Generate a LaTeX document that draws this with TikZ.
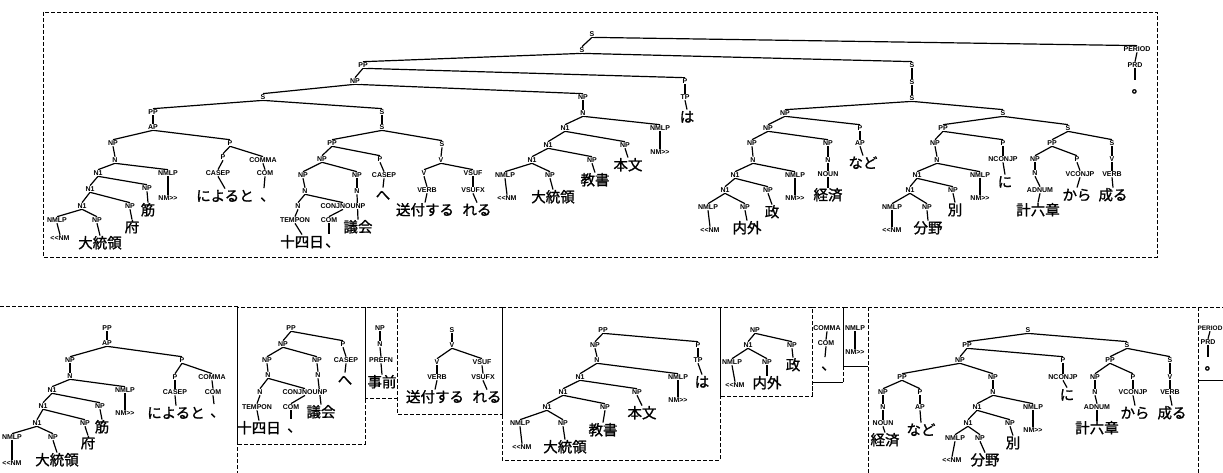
\documentclass[tikz,border=0pt]{standalone}
\usepackage{fontspec}
\setsansfont{Liberation Sans}
\newfontfamily\jpfont{Noto Sans CJK JP}[FakeBold=1.2]
\usetikzlibrary{backgrounds}
\newcommand\LLt{<\kern0pt<}
\newcommand\GGt{>\kern0pt>}
\newcommand\tten{\makebox[7.5pt][l]{、}}
\newcommand\tmaru{\makebox[7pt][l]{。}}
\begin{document}
\begin{tikzpicture}[x=1pt,y=-1pt,
  L/.style={font=\sffamily\bfseries\fontsize{7}{7}\selectfont, inner sep=0.7pt, fill=white},
  W/.style={font=\jpfont\fontsize{14.5}{14.5}\selectfont, inner sep=0.5pt, text height=12pt, text depth=1.5pt},
  edge/.style={line width=1.2pt},
  box/.style={line width=0.8pt, dash pattern=on 4pt off 2pt},
  solidbox/.style={line width=1pt}]
\useasboundingbox (0,0) rectangle (1223,473);
% ---------------- top tree ----------------
\node[L] (t0) at (592,34) {S};
\node[L] (t1) at (582,50) {S};
\node[L] (tper) at (1137,49) {PERIOD};
\node[L] (tprd) at (1135,65) {PRD};
\node[W] (tdot) at (1135,87.5) {\tmaru};
\node[L] (tpp1) at (363,65) {PP};
\node[L] (tnp1) at (355,81) {NP};
\node[L] (tp1) at (685,81) {P};
\node[L] (ttp) at (685,97) {TP};
\node[W] (tha) at (687,117) {は};
\node[L] (ts2) at (263,97) {S};
\node[L] (tap0) at (153,112) {PP};
\node[L] (tap) at (153,127) {AP};
\node[L] (tnpa) at (113,143) {NP};
\node[L] (tpa) at (230,143) {P};
\node[L] (tna) at (115,160) {N};
\node[L] (tn1a) at (98,173) {N1};
\node[L] (tmla) at (168,173) {NMLP};
\node[L] (tnma) at (168,198) {NM\GGt};
\node[L] (tn1b) at (90,189) {N1};
\node[L] (tnpb) at (147,188) {NP};
\node[W] (tsuji) at (148,210) {筋};
\node[L] (tn1c) at (82,206) {N1};
\node[L] (tnpc) at (130,206) {NP};
\node[W] (tfu) at (132,227) {府};
\node[L] (tmlc) at (57,220) {NMLP};
\node[L] (tnpd) at (97,220) {NP};
\node[L] (tnmc) at (60,238) {\LLt NM};
\node[W] (tdtr) at (100,243) {大統領};
\node[L] (tpb) at (223,157) {P};
\node[L] (tcma) at (263,160) {COMMA};
\node[L] (tcsa) at (218,173) {CASEP};
\node[W] (tniyo) at (225,196) {によると};
\node[L] (tcoa) at (265,173) {COM};
\node[W] (ttena) at (264,195.5) {\tten};
\node[L] (ts3) at (382,112) {S};
\node[L] (ts4) at (382,127) {S};
\node[L] (tpp2) at (332,143) {PP};
\node[L] (ts5) at (442,144) {S};
\node[L] (tnp2) at (322,159) {NP};
\node[L] (tp2) at (380,159) {P};
\node[L] (tnp3) at (303,175) {NP};
\node[L] (tnp4) at (357,175) {NP};
\node[L] (tcs2) at (384,175) {CASEP};
\node[W] (the) at (383,195) {へ};
\node[L] (tn3) at (305,191) {N};
\node[L] (tn3b) at (298,206) {N};
\node[L] (tcj) at (343,206) {CONJNOUNP};
\node[L] (ttemp) at (295,220) {TEMPON};
\node[W] (tjuyo) at (302,242) {十四日};
\node[L] (tcom2) at (329,220) {COM};
\node[W] (tten2) at (329,241.5) {\tten};
\node[L] (tn4) at (357,191) {N};
\node[W] (tgikai) at (358,227) {議会};
\node[L] (tv1) at (441,160) {V};
\node[L] (tv2) at (424,173) {V};
\node[L] (tvsuf) at (473,173) {VSUF};
\node[L] (tverb1) at (427,190) {VERB};
\node[W] (tsofu) at (425,210) {送付する};
\node[L] (tvsx) at (473,190) {VSUFX};
\node[W] (treru) at (477,210) {れる};
\node[L] (tnp5) at (583,97) {NP};
\node[L] (tn5) at (583,113) {N};
\node[L] (tn1e) at (565,128) {N1};
\node[L] (tmle) at (660,128) {NMLP};
\node[L] (tnme) at (660,152) {NM\GGt};
\node[L] (tn1f) at (548,145) {N1};
\node[L] (tnpf) at (625,145) {NP};
\node[W] (thon) at (628,165) {本文};
\node[L] (tn1g) at (532,160) {N1};
\node[L] (tnpg) at (592,160) {NP};
\node[W] (tkyo) at (595,180) {教書};
\node[L] (tmlh) at (505,175) {NMLP};
\node[L] (tnph) at (550,175) {NP};
\node[L] (tnmh) at (507,198) {\LLt NM};
\node[W] (tdtr2) at (553,197) {大統領};
\node[L] (ts6) at (912,65) {S};
\node[L] (ts7) at (912,82) {S};
\node[L] (ts8) at (912,98) {S};
\node[L] (tnp6) at (785,113) {NP};
\node[L] (ts9) at (1003,113) {S};
\node[L] (tnp7) at (768,128) {NP};
\node[L] (tp7) at (860,128) {P};
\node[L] (tap7) at (860,143) {AP};
\node[W] (tnado) at (863,163) {など};
\node[L] (tnp8) at (752,143) {NP};
\node[L] (tnp9) at (828,143) {NP};
\node[L] (tn9) at (828,160) {N};
\node[L] (tnoun9) at (828,174) {NOUN};
\node[W] (tkei) at (828,195) {経済};
\node[L] (tn8) at (753,160) {N};
\node[L] (tn1i) at (735,175) {N1};
\node[L] (tmli) at (795,175) {NMLP};
\node[L] (tnmi) at (795,198) {NM\GGt};
\node[L] (tn1j) at (725,190) {N1};
\node[L] (tnpj) at (768,190) {NP};
\node[W] (tsei) at (772,212) {政};
\node[L] (tmlk) at (708,207) {NMLP};
\node[L] (tnpk) at (745,207) {NP};
\node[L] (tnmk) at (710,230) {\LLt NM};
\node[W] (tnai) at (747,228) {内外};
\node[L] (tpp10) at (943,128) {PP};
\node[L] (ts10) at (1068,128) {S};
\node[L] (tnp10) at (935,143) {NP};
\node[L] (tp10) at (1003,143) {P};
\node[L] (tncj) at (1003,159) {NCONJP};
\node[W] (tni) at (1005,182) {に};
\node[L] (tn10) at (937,160) {N};
\node[L] (tn1l) at (917,175) {N1};
\node[L] (tmll) at (980,175) {NMLP};
\node[L] (tnml) at (980,198) {NM\GGt};
\node[L] (tn1m) at (910,190) {N1};
\node[L] (tnpm) at (953,190) {NP};
\node[W] (tbetsu) at (955,210) {別};
\node[L] (tmln) at (892,207) {NMLP};
\node[L] (tnpn) at (927,207) {NP};
\node[L] (tnmn) at (892,230) {\LLt NM};
\node[W] (tbun) at (928,228) {分野};
\node[L] (tpp11) at (1052,143) {PP};
\node[L] (ts11) at (1112,143) {S};
\node[L] (tnp11) at (1035,159) {NP};
\node[L] (tp11) at (1077,159) {P};
\node[L] (tn11) at (1035,173) {N};
\node[L] (tadn) at (1040,190) {ADNUM};
\node[W] (tkeiroku) at (1038,210) {計六章};
\node[L] (tvcj) at (1080,174) {VCONJP};
\node[W] (tkara) at (1077,195) {から};
\node[L] (tv11) at (1112,159) {V};
\node[L] (tverb11) at (1112,174) {VERB};
\node[W] (tnaru) at (1113,195) {成る};
% ---------------- bottom: box 1 ----------------
\node[L] (apa) at (107,328) {PP};
\node[L] (aap) at (107,343) {AP};
\node[L] (anp) at (70,360) {NP};
\node[L] (ap) at (182,360) {P};
\node[L] (an) at (70,376) {N};
\node[L] (an1) at (52,390) {N1};
\node[L] (aml) at (125,390) {NMLP};
\node[L] (anm) at (125,413) {NM\GGt};
\node[L] (an1b) at (43,406) {N1};
\node[L] (anpb) at (100,406) {NP};
\node[W] (asuji) at (102,427) {筋};
\node[L] (an1c) at (37,423) {N1};
\node[L] (anpc) at (85,423) {NP};
\node[W] (afu) at (88,443) {府};
\node[L] (amld) at (12,437) {NMLP};
\node[L] (anpd) at (53,437) {NP};
\node[L] (anmd) at (12,463) {\LLt NM};
\node[W] (adtr) at (57,460) {大統領};
\node[L] (apb) at (175,377) {P};
\node[L] (acma) at (212,377) {COMMA};
\node[L] (acs) at (175,392) {CASEP};
\node[W] (aniyo) at (176,413) {によると};
\node[L] (aco) at (213,392) {COM};
\node[W] (aten) at (214,411.5) {\tten};
% ---------------- box 2 ----------------
\node[L] (cpp) at (291,328) {PP};
\node[L] (cnp) at (283,344) {NP};
\node[L] (cp) at (343,344) {P};
\node[L] (cnp1) at (267,360) {NP};
\node[L] (cnp2) at (317,360) {NP};
\node[L] (ccs) at (346,360) {CASEP};
\node[W] (che) at (345,380) {へ};
\node[L] (cn) at (268,375) {N};
\node[L] (cn2) at (318,375) {N};
\node[L] (cnb) at (260,392) {N};
\node[L] (ccj) at (305,392) {CONJNOUNP};
\node[L] (ctemp) at (257,407) {TEMPON};
\node[L] (ccom) at (291,407) {COM};
\node[W] (cjuyo) at (259,428) {十四日};
\node[W] (cten) at (291,426.5) {\tten};
\node[W] (cgikai) at (321,412) {議会};
% ---------------- box 3 ----------------
\node[L] (dnp) at (380,328) {NP};
\node[L] (dn) at (380,344) {N};
\node[L] (dpre) at (381,360) {PREFN};
\node[W] (djizen) at (382,382) {事前};
% ---------------- box 4 ----------------
\node[L] (es) at (452,330) {S};
\node[L] (ev) at (452,345) {V};
\node[L] (ev2) at (437,362) {V};
\node[L] (evs) at (482,362) {VSUF};
\node[L] (everb) at (437,377) {VERB};
\node[L] (evsx) at (483,377) {VSUFX};
\node[W] (esofu) at (435,397) {送付する};
\node[W] (ereru) at (487,397) {れる};
% ---------------- box 5 ----------------
\node[L] (fpp) at (603,330) {PP};
\node[L] (fnp) at (595,345) {NP};
\node[L] (fp) at (698,345) {P};
\node[L] (ftp) at (698,360) {TP};
\node[W] (fha) at (702,382) {は};
\node[L] (fn) at (597,360) {N};
\node[L] (fn1) at (580,377) {N1};
\node[L] (fml) at (678,377) {NMLP};
\node[L] (fnm) at (678,400) {NM\GGt};
\node[L] (fn1b) at (563,392) {N1};
\node[L] (fnpb) at (637,392) {NP};
\node[W] (fhon) at (642,413) {本文};
\node[L] (fn1c) at (547,407) {N1};
\node[L] (fnpc) at (605,407) {NP};
\node[W] (fkyo) at (603,430) {教書};
\node[L] (fmld) at (520,423) {NMLP};
\node[L] (fnpd) at (563,423) {NP};
\node[L] (fnmd) at (522,447) {\LLt NM};
\node[W] (fdtr) at (565,447) {大統領};
% ---------------- box 6 ----------------
\node[L] (gnp) at (755,330) {NP};
\node[L] (gn1) at (748,345) {N1};
\node[L] (gnp2) at (792,345) {NP};
\node[W] (gsei) at (793,365) {政};
\node[L] (gml) at (732,362) {NMLP};
\node[L] (gnp3) at (767,362) {NP};
\node[L] (gnm) at (735,385) {\LLt NM};
\node[W] (gnai) at (767,383) {内外};
% ---------------- box 7, 8, 10 ----------------
\node[L] (hcm) at (827,328) {COMMA};
\node[L] (hco) at (826,343) {COM};
\node[W] (hten) at (825,364.5) {\tten};
\node[L] (iml) at (855,328) {NMLP};
\node[L] (inm) at (855,352) {NM\GGt};
\node[L, font=\sffamily\bfseries\fontsize{6.5}{6.5}\selectfont] (kper) at (1210,328) {PERIOD};
\node[L] (kprd) at (1208,342) {PRD};
\node[W] (kdot) at (1208,364.5) {\tmaru};
% ---------------- box 9 ----------------
\node[L] (js) at (1028,330) {S};
\node[L] (jpp) at (967,345) {PP};
\node[L] (js2) at (1127,345) {S};
\node[L] (jnp) at (960,360) {NP};
\node[L] (jp) at (1063,360) {P};
\node[L] (jncj) at (1063,377) {NCONJP};
\node[W] (jni) at (1067,395) {に};
\node[L] (jpp2) at (902,377) {PP};
\node[L] (jnp2) at (993,377) {NP};
\node[L] (jnp3) at (883,392) {NP};
\node[L] (jp3) at (920,392) {P};
\node[L] (jn3) at (883,407) {N};
\node[L] (jnoun) at (883,423) {NOUN};
\node[W] (jkei) at (885,440) {経済};
\node[L] (jap) at (920,407) {AP};
\node[W] (jnado) at (921,430) {など};
\node[L] (jn) at (993,392) {N};
\node[L] (jn1) at (977,407) {N1};
\node[L] (jml) at (1033,407) {NMLP};
\node[L] (jnm) at (1033,430) {NM\GGt};
\node[L] (jn1b) at (968,423) {N1};
\node[L] (jnpb) at (1010,423) {NP};
\node[W] (jbetsu) at (1013,443) {別};
\node[L] (jmlc) at (955,438) {NMLP};
\node[L] (jnpc) at (980,438) {NP};
\node[L] (jnmc) at (952,460) {\LLt NM};
\node[W] (jbun) at (985,460) {分野};
\node[L] (jpp3) at (1110,360) {PP};
\node[L] (js3) at (1170,360) {S};
\node[L] (jnp4) at (1095,377) {NP};
\node[L] (jp4) at (1133,377) {P};
\node[L] (jn4) at (1095,392) {N};
\node[L] (jadn) at (1097,407) {ADNUM};
\node[W] (jkeiroku) at (1097,428) {計六章};
\node[L] (jvcj) at (1133,392) {VCONJP};
\node[W] (jkara) at (1135,413) {から};
\node[L] (jv) at (1170,377) {V};
\node[L] (jverb) at (1170,392) {VERB};
\node[W] (jnaru) at (1172,413) {成る};
% ---------------- edges and boxes ----------------
\begin{scope}[on background layer]
\foreach \p/\c in {t0/t1, t0/tper, tper/tprd, tprd/tdot, t1/tpp1, t1/ts6, tpp1/tnp1, tpp1/tp1, tp1/ttp, ttp/tha,
  tnp1/ts2, tnp1/tnp5, ts2/tap0, ts2/ts3, tap0/tap, tap/tnpa, tap/tpa, tnpa/tna, tna/tn1a, tna/tmla, tmla/tnma,
  tn1a/tn1b, tn1a/tnpb, tnpb/tsuji, tn1b/tn1c, tn1b/tnpc, tnpc/tfu, tn1c/tmlc, tn1c/tnpd, tmlc/tnmc, tnpd/tdtr,
  tpa/tpb, tpa/tcma, tpb/tcsa, tcsa/tniyo, tcma/tcoa, tcoa/ttena,
  ts3/ts4, ts4/tpp2, ts4/ts5, tpp2/tnp2, tpp2/tp2, tnp2/tnp3, tnp2/tnp4, tp2/tcs2, tcs2/the, tnp3/tn3, tn3/tn3b,
  tn3/tcj, tn3b/ttemp, ttemp/tjuyo, tcj/tcom2, tcom2/tten2, tnp4/tn4, tn4/tgikai, ts5/tv1, tv1/tv2, tv1/tvsuf,
  tv2/tverb1, tverb1/tsofu, tvsuf/tvsx, tvsx/treru,
  tnp5/tn5, tn5/tn1e, tn5/tmle, tmle/tnme, tn1e/tn1f, tn1e/tnpf, tnpf/thon, tn1f/tn1g, tn1f/tnpg, tnpg/tkyo,
  tn1g/tmlh, tn1g/tnph, tmlh/tnmh, tnph/tdtr2,
  ts6/ts7, ts7/ts8, ts8/tnp6, ts8/ts9, tnp6/tnp7, tnp6/tp7, tp7/tap7, tap7/tnado, tnp7/tnp8, tnp7/tnp9, tnp9/tn9,
  tn9/tnoun9, tnoun9/tkei, tnp8/tn8, tn8/tn1i, tn8/tmli, tmli/tnmi, tn1i/tn1j, tn1i/tnpj, tnpj/tsei, tn1j/tmlk,
  tn1j/tnpk, tmlk/tnmk, tnpk/tnai,
  ts9/tpp10, ts9/ts10, tpp10/tnp10, tpp10/tp10, tp10/tncj, tncj/tni, tnp10/tn10, tn10/tn1l, tn10/tmll, tmll/tnml,
  tn1l/tn1m, tn1l/tnpm, tnpm/tbetsu, tn1m/tmln, tn1m/tnpn, tmln/tnmn, tnpn/tbun, ts10/tpp11, ts10/ts11,
  tpp11/tnp11, tpp11/tp11, tnp11/tn11, tn11/tadn, tadn/tkeiroku, tp11/tvcj, tvcj/tkara, ts11/tv11, tv11/tverb11,
  tverb11/tnaru,
  apa/aap, aap/anp, aap/ap, anp/an, an/an1, an/aml, aml/anm, an1/an1b, an1/anpb, anpb/asuji, an1b/an1c, an1b/anpc,
  anpc/afu, an1c/amld, an1c/anpd, amld/anmd, anpd/adtr, ap/apb, ap/acma, apb/acs, acs/aniyo, acma/aco, aco/aten,
  cpp/cnp, cpp/cp, cnp/cnp1, cnp/cnp2, cp/ccs, ccs/che, cnp1/cn, cn/cnb, cn/ccj, cnb/ctemp, ctemp/cjuyo,
  ccj/ccom, ccom/cten, cnp2/cn2, cn2/cgikai,
  dnp/dn, dn/dpre, dpre/djizen,
  es/ev, ev/ev2, ev/evs, ev2/everb, everb/esofu, evs/evsx, evsx/ereru,
  fpp/fnp, fpp/fp, fp/ftp, ftp/fha, fnp/fn, fn/fn1, fn/fml, fml/fnm, fn1/fn1b, fn1/fnpb, fnpb/fhon, fn1b/fn1c,
  fn1b/fnpc, fnpc/fkyo, fn1c/fmld, fn1c/fnpd, fmld/fnmd, fnpd/fdtr,
  gnp/gn1, gnp/gnp2, gnp2/gsei, gn1/gml, gn1/gnp3, gml/gnm, gnp3/gnai,
  hcm/hco, hco/hten, iml/inm, kper/kprd, kprd/kdot,
  js/jpp, js/js2, jpp/jnp, jpp/jp, jp/jncj, jncj/jni, jnp/jpp2, jnp/jnp2, jpp2/jnp3, jpp2/jp3, jnp3/jn3,
  jn3/jnoun, jnoun/jkei, jp3/jap, jap/jnado, jnp2/jn, jn/jn1, jn/jml, jml/jnm, jn1/jn1b, jn1/jnpb, jnpb/jbetsu,
  jn1b/jmlc, jn1b/jnpc, jmlc/jnmc, jnpc/jbun, js2/jpp3, js2/js3, jpp3/jnp4, jpp3/jp4, jnp4/jn4, jn4/jadn,
  jadn/jkeiroku, jp4/jvcj, jvcj/jkara, js3/jv, jv/jverb, jverb/jnaru}
  \draw[edge] (\p.south) -- (\c.north);
% dashed frames
\draw[box] (43,12) rectangle (1157,257);
\draw[box] (0,306) -- (237,306) -- (237,473);
\draw[box] (237,307) rectangle (365,444);
\draw[box] (365,307) rectangle (397,398);
\draw[box] (397,307) rectangle (502,414);
\draw[box] (502,307) rectangle (720,460);
\draw[box] (720,307) rectangle (812,396);
\draw[box] (812,396) -- (812,382) (812,307) -- (843,307) -- (843,382);
\draw[solidbox] (812,382) -- (843,382);
\draw[box] (843,366) -- (843,307) -- (868,307) -- (868,473);
\draw[solidbox] (843,366) -- (868,366);
\draw[box] (868,307) -- (1198,307) -- (1198,473);
\draw[box] (1198,307) -- (1223,307);
\draw[solidbox] (1198,380) -- (1223,380);
\end{scope}
\end{tikzpicture}
\end{document}
